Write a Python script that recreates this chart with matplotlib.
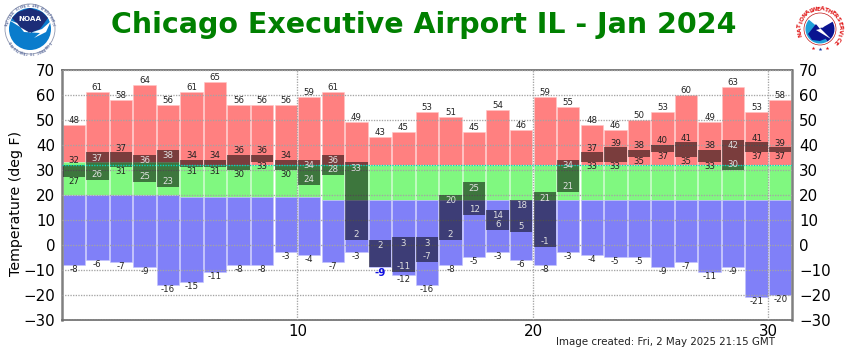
import numpy as np
import matplotlib
matplotlib.use("Agg")
import matplotlib.pyplot as plt
from matplotlib.patches import Circle, Polygon, Wedge

days = np.arange(1, 32)
record_max = [48, 61, 58, 64, 56, 61, 65, 56, 56, 56, 59, 61, 49, 43, 45, 53,
              51, 45, 54, 46, 59, 55, 48, 46, 50, 53, 60, 49, 63, 53, 58]
record_min = [-8, -6, -7, -9, -16, -15, -11, -8, -8, -3, -4, -7, -3, -9, -12, -16,
              -8, -5, -3, -6, -8, -3, -4, -5, -5, -9, -7, -11, -9, -21, -20]
normal_high = [33, 33, 33, 33, 33, 32, 32, 32, 32, 32, 32, 32, 32, 32, 32, 32,
               32, 32, 32, 32, 32, 32, 32, 32, 32, 32, 32, 32, 32, 32, 32]
normal_low = [20, 20, 20, 20, 20, 19, 19, 19, 19, 19, 19, 18, 18, 18, 18, 18,
              18, 18, 18, 18, 18, 18, 18, 18, 18, 18, 18, 18, 18, 18, 18]
obs_high = [32, 37, 37, 36, 38, 34, 34, 36, 36, 34, 34, 36, 33, 2, 3, 3,
            20, 25, 14, 18, 21, 34, 37, 39, 38, 40, 41, 38, 42, 41, 39]
obs_low = [27, 26, 31, 25, 23, 31, 31, 30, 33, 30, 24, 28, 2, -9, -11, -7,
           2, 12, 6, 5, -1, 21, 33, 33, 35, 37, 35, 33, 30, 37, 37]

title = "Chicago Executive Airport IL - Jan 2024"
created = "Image created: Fri, 2 May 2025 21:15 GMT"

RED = "#ff8080"
GREEN = "#80f880"
BLUE = "#8080f8"
GRID = "#a4a4a4"
W = 0.95

fig = plt.figure(figsize=(8.5, 3.5), dpi=100)
ax = fig.add_axes([62 / 850, 1 - 319.5 / 350, 730 / 850, 249.5 / 350])
ax.set_xlim(0, 31)
ax.set_ylim(-30, 70)

x = days - 0.5
rmax = np.array(record_max)
rmin = np.array(record_min)
nhi = np.array(normal_high)
nlo = np.array(normal_low)
hi = np.array(obs_high)
lo = np.array(obs_low)

ax.bar(x, rmax - nhi, bottom=nhi, width=W, color=RED, edgecolor="#ffc4c4", linewidth=0.4, zorder=2)
ax.bar(x, nhi - nlo, bottom=nlo, width=W, color=GREEN, edgecolor="#c0fcc0", linewidth=0.4, zorder=2)
ax.bar(x, nlo - rmin, bottom=rmin, width=W, color=BLUE, edgecolor="#c4c4fc", linewidth=0.4, zorder=2)
ax.bar(x, hi - lo, bottom=lo, width=W, color="black", alpha=0.52, linewidth=0, zorder=3)

# dotted grid sits on top of the bars
ax.set_yticks(np.arange(-30, 71, 10))
ax.set_xticks([10, 20, 30])
ax.grid(True, color=GRID, linestyle=(0, (1, 1)), linewidth=0.95, zorder=4)
ax.set_axisbelow(False)
ax.axhline(32, color="#00d8c0", linestyle=(0, (1, 1)), linewidth=0.95, zorder=5)

ax.tick_params(length=0, labelsize=10.8, pad=5, labelright=True, right=True)
ax.tick_params(axis="x", pad=3)
for side in ["left", "right"]:
    ax.spines[side].set_color("#808080")
    ax.spines[side].set_linewidth(1.8)
for side in ["top", "bottom"]:
    ax.spines[side].set_color("#686868")
    ax.spines[side].set_linewidth(1.2)

FS = 6.2
for i in range(len(days)):
    ax.text(x[i], rmax[i] + 1.9, str(rmax[i]), ha="center", va="center", fontsize=FS, color="#222222", zorder=6)
    inside = hi[i] - lo[i] >= 8
    if inside:
        ax.text(x[i], hi[i] - 2.4, str(hi[i]), ha="center", va="center", fontsize=FS, color="#e0e0e0", zorder=6)
    else:
        ax.text(x[i], hi[i] + 1.6, str(hi[i]), ha="center", va="center", fontsize=FS, color="#222222", zorder=6)
    if lo[i] == rmin[i]:
        # record-tying low takes the place of the record label
        ax.text(x[i], lo[i] - 2.4, str(lo[i]), ha="center", va="center", fontsize=7.5, color="#1010e0",
                fontweight="bold", zorder=7)
        continue
    ax.text(x[i], rmin[i] - 1.8, str(rmin[i]), ha="center", va="center", fontsize=FS, color="#222222", zorder=6)
    if inside:
        ax.text(x[i], lo[i] + 2.2, str(lo[i]), ha="center", va="center", fontsize=FS, color="#e0e0e0", zorder=6)
    else:
        ax.text(x[i], lo[i] - 1.8, str(lo[i]), ha="center", va="center", fontsize=FS, color="#222222", zorder=6)

fig.text(16 / 850, 1 - 203 / 350, "Temperature (deg F)", rotation=90, ha="center", va="center", fontsize=10.2)
fig.text(424 / 850, 1 - 25 / 350, title, ha="center", va="center", fontsize=20.5,
         fontweight="bold", color="#008000")
fig.text(775 / 850, 1 - 342 / 350, created, ha="right", va="center", fontsize=7.4, color="#222222")

# logos, in pixel coordinates
logo = fig.add_axes([0, 0, 1, 1], zorder=-1)
logo.set_xlim(0, 850)
logo.set_ylim(350, 0)
logo.axis("off")


def ring_text(cx, cy, r, s, start, end, color, size):
    angles = np.linspace(start, end, len(s))
    for ch, a in zip(s, angles):
        t = np.radians(a)
        logo.text(cx + r * np.cos(t), cy - r * np.sin(t), ch, ha="center", va="center", fontsize=size,
                  color=color, rotation=a - 90, fontweight="bold")


# NOAA
logo.add_patch(Circle((30, 29), 25, fc="white", ec="#9098b0", lw=0.6))
logo.add_patch(Circle((30, 29), 21, fc="#0a7ccc", ec="none"))
logo.add_patch(Polygon([[12, 18], [18, 12], [30, 8], [42, 12], [48, 18], [40, 29], [30, 33], [22, 29]],
                       fc="#1c2d78", ec="none"))
logo.add_patch(Polygon([[9, 20], [17, 23], [24, 32], [40, 33], [34, 38], [46, 32], [51, 21], [42, 29], [30, 33],
                        [20, 27]], fc="white", ec="none"))
logo.text(30, 19, "NOAA", ha="center", va="center", fontsize=5.2, color="white", fontweight="bold")
ring_text(30, 29, 23, "NATIONAL OCEANIC AND ATMOSPHERIC", 170, 10, "#6070a0", 1.8)
ring_text(30, 29, 23, "DEPARTMENT OF COMMERCE", 215, 325, "#6070a0", 1.8)

# NWS
logo.add_patch(Circle((820, 29), 16, fc="white", ec="#c01818", lw=0.5))
logo.add_patch(Wedge((820, 29), 14.5, 60, 220, fc="#20a0d8", ec="none"))
logo.add_patch(Wedge((820, 29), 14.5, -30, 60, fc="#0a1490", ec="none"))
logo.add_patch(Polygon([[808, 34], [816, 24], [826, 30], [832, 24], [830, 37], [820, 41], [812, 40]],
                       fc="#0a1490", ec="none"))
logo.add_patch(Polygon([[812, 19], [824, 27], [820, 28], [831, 39], [816, 30], [820, 29]], fc="white", ec="none"))
ring_text(820, 29, 20, "NATIONAL", 195, 115, "#e01818", 4.2)
ring_text(820, 29, 20, "WEATHER", 105, 40, "#e01818", 4.2)
ring_text(820, 29, 20, "SERVICE", 28, -40, "#e01818", 4.2)
for a in [250, 270, 290]:
    t = np.radians(a)
    logo.plot(820 + 20 * np.cos(t), 29 - 20 * np.sin(t), marker="*", ms=2.8,
              color="#e01818" if a != 270 else "#1030a0", mew=0)

fig.savefig("out.png", dpi=100)
